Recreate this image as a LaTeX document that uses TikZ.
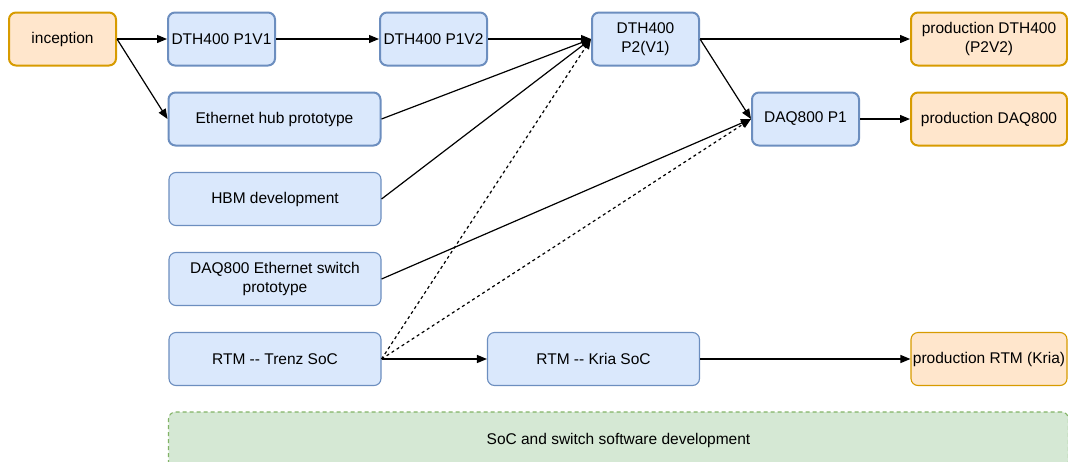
\documentclass[tikz,border=0pt]{standalone}
\usepackage{fontspec}
\setmainfont{Liberation Sans}
\usetikzlibrary{arrows.meta}
\definecolor{bluefill}{HTML}{DAE8FC}
\definecolor{blueline}{HTML}{6C8EBF}
\definecolor{orangefill}{HTML}{FFE6CC}
\definecolor{orangeline}{HTML}{D79B00}
\definecolor{greenfill}{HTML}{D5E8D4}
\definecolor{greenline}{HTML}{82B366}
\tikzset{
  box/.style={rounded corners=7pt, inner sep=0pt, align=center,
    font=\fontsize{15.5}{18.5}\selectfont},
  bluebox/.style={box, fill=bluefill, draw=blueline, line width=1.1pt},
  bluebold/.style={bluebox, line width=2pt},
  orangebox/.style={box, fill=orangefill, draw=orangeline, line width=1.1pt},
  orangebold/.style={orangebox, line width=2pt},
  small/.style={minimum width=107pt, minimum height=53pt},
  wide/.style={minimum width=212pt, minimum height=53pt},
  prod/.style={minimum width=156pt, minimum height=53pt},
  link/.style={line width=1.2pt, -{Triangle[length=10pt,width=8pt]}},
  dotlink/.style={link, dash pattern=on 3pt off 3pt}
}
\begin{document}
\begin{tikzpicture}[x=1pt,y=-1pt]
\useasboundingbox (0,0) rectangle (1068,461);

% top chain
\node[orangebold, small] (inc)  at (62.5,39)  {inception};
\node[bluebold, small]   (p1v1) at (221.5,39) {DTH400 P1V1};
\node[bluebold, small]   (p1v2) at (433.5,39) {DTH400 P1V2};
\node[bluebold, small]   (p2v1) at (645.5,39) {DTH400\\P2(V1)};
\node[orangebold, prod]  (pdth) at (989,39)   {production DTH400\\(P2V2)};

% second row
\node[bluebold, wide]    (hub)  at (274.5,119) {Ethernet hub prototype};
\node[bluebold, small]   (daq)  at (805.5,119) {DAQ800 P1};
\node[orangebold, prod]  (pdaq) at (989,119)   {production DAQ800};

% development tracks
\node[bluebox, wide]     (hbm)  at (275,199) {HBM development};
\node[bluebox, wide]     (sw)   at (275,279) {DAQ800 Ethernet switch\\prototype};
\node[bluebox, wide]     (trenz) at (275,359) {RTM {-}{-} Trenz SoC};
\node[bluebox, wide]     (kria) at (593.5,359) {RTM {-}{-} Kria SoC};
\node[orangebox, prod]   (prtm) at (989,359)  {production RTM (Kria)};

% software band, running past the lower edge
\node[box, fill=greenfill, draw=greenline, line width=1.1pt,
      dash pattern=on 4pt off 3pt, minimum width=900pt, minimum height=62pt]
      (soft) at (618.5,443) {\raisebox{7.5pt}{SoC and switch software development}};

% connectors
\draw[link] (inc.east) -- (p1v1.west);
\draw[link] (inc.east) -- (hub.west);
\draw[link] (p1v1.east) -- (p1v2.west);
\draw[link] (p1v2.east) -- (p2v1.west);
\draw[link] (hub.east) -- (p2v1.west);
\draw[link] (hbm.east) -- (p2v1.west);
\draw[dotlink] (trenz.east) -- (p2v1.west);
\draw[link] (p2v1.east) -- (pdth.west);
\draw[link] (p2v1.east) -- (daq.west);
\draw[link] (sw.east) -- (daq.west);
\draw[dotlink] (trenz.east) -- (daq.west);
\draw[link] (daq.east) -- (pdaq.west);
\draw[link] (trenz.east) -- (kria.west);
\draw[link] (kria.east) -- (prtm.west);
\end{tikzpicture}
\end{document}
